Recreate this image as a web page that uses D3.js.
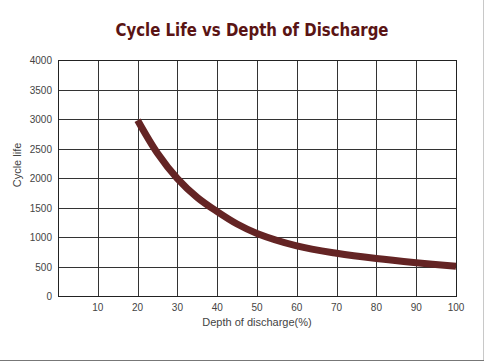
<!DOCTYPE html>
<html>
<head>
<meta charset="utf-8">
<script src="https://cdn.jsdelivr.net/npm/d3@7"></script>
<style>
  body { margin: 0; background: #fff; }
  text { font-family: Tahoma, "Liberation Sans", sans-serif; }
</style>
</head>
<body>
<svg id="chart" width="488" height="362"></svg>
<script>
// depth of discharge (%) and cycle life
var depth = [20, 25, 30, 35, 40, 45, 50, 60, 70, 80, 90, 100];
var cycles = [2980, 2420, 1990, 1670, 1430, 1220, 1060, 850, 725, 635, 565, 505];
var xTicks = [10, 20, 30, 40, 50, 60, 70, 80, 90, 100];
var yTicks = [0, 500, 1000, 1500, 2000, 2500, 3000, 3500, 4000];

var svg = d3.select("#chart"),
    margin = {top: 60, right: 32, bottom: 66, left: 58},
    width = +svg.attr("width") - margin.left - margin.right,
    height = +svg.attr("height") - margin.top - margin.bottom;

// frame shadow on right and bottom
svg.append("line").attr("x1", 483.5).attr("x2", 483.5).attr("y1", 0).attr("y2", 361)
  .attr("stroke", "#c8c8c8").attr("stroke-width", 1);
svg.append("line").attr("x1", 0).attr("x2", 484).attr("y1", 360.5).attr("y2", 360.5)
  .attr("stroke", "#777").attr("stroke-width", 1);

svg.append("text")
  .attr("x", 252).attr("y", 36)
  .attr("text-anchor", "middle")
  .attr("textLength", 273).attr("lengthAdjust", "spacingAndGlyphs")
  .style("font-family", "'DejaVu Sans', sans-serif")
  .style("font-size", "17px").style("font-weight", "bold")
  .style("fill", "#5a1414")
  .text("Cycle Life vs Depth of Discharge");

var g = svg.append("g").attr("transform", "translate(" + margin.left + "," + margin.top + ")");

var x = d3.scaleLinear().domain([0, 100]).range([0, width]);
var y = d3.scaleLinear().domain([0, 4000]).range([height, 0]);

// grid
g.selectAll(".vgrid").data(xTicks).enter().append("line")
  .attr("x1", function(d) { return Math.round(x(d)) + 0.5; })
  .attr("x2", function(d) { return Math.round(x(d)) + 0.5; })
  .attr("y1", 0).attr("y2", height)
  .attr("stroke", "#333").attr("stroke-width", 1);

g.selectAll(".hgrid").data(yTicks).enter().append("line")
  .attr("x1", 0).attr("x2", width)
  .attr("y1", function(d) { return Math.round(y(d)) + 0.5; })
  .attr("y2", function(d) { return Math.round(y(d)) + 0.5; })
  .attr("stroke", "#333").attr("stroke-width", 1);

g.append("rect").attr("x", 0.5).attr("y", 0.5)
  .attr("width", width).attr("height", height)
  .attr("fill", "none").attr("stroke", "#222").attr("stroke-width", 1);

// tick labels
g.selectAll(".xl").data(xTicks).enter().append("text")
  .attr("x", function(d) { return x(d); })
  .attr("y", height + 15)
  .attr("text-anchor", "middle")
  .style("font-size", "10px").style("fill", "#444")
  .text(function(d) { return d; });

g.selectAll(".yl").data(yTicks).enter().append("text")
  .attr("x", -6)
  .attr("y", function(d) { return y(d) + 4; })
  .attr("text-anchor", "end")
  .style("font-size", "10px").style("fill", "#444")
  .text(function(d) { return d; });

svg.append("text")
  .attr("x", 257).attr("y", 326)
  .attr("text-anchor", "middle")
  .style("font-size", "11px").style("fill", "#444")
  .text("Depth of discharge(%)");

svg.append("text")
  .attr("transform", "translate(21,165) rotate(-90)")
  .attr("text-anchor", "middle")
  .style("font-size", "11px").style("fill", "#444")
  .text("Cycle life");

var line = d3.line()
  .x(function(d, i) { return x(depth[i]); })
  .y(function(d) { return y(d); })
  .curve(d3.curveCatmullRom.alpha(0.5));

g.append("path")
  .datum(cycles)
  .attr("d", line)
  .attr("fill", "none")
  .attr("stroke", "#642424")
  .attr("stroke-width", 7);
</script>
</body>
</html>
